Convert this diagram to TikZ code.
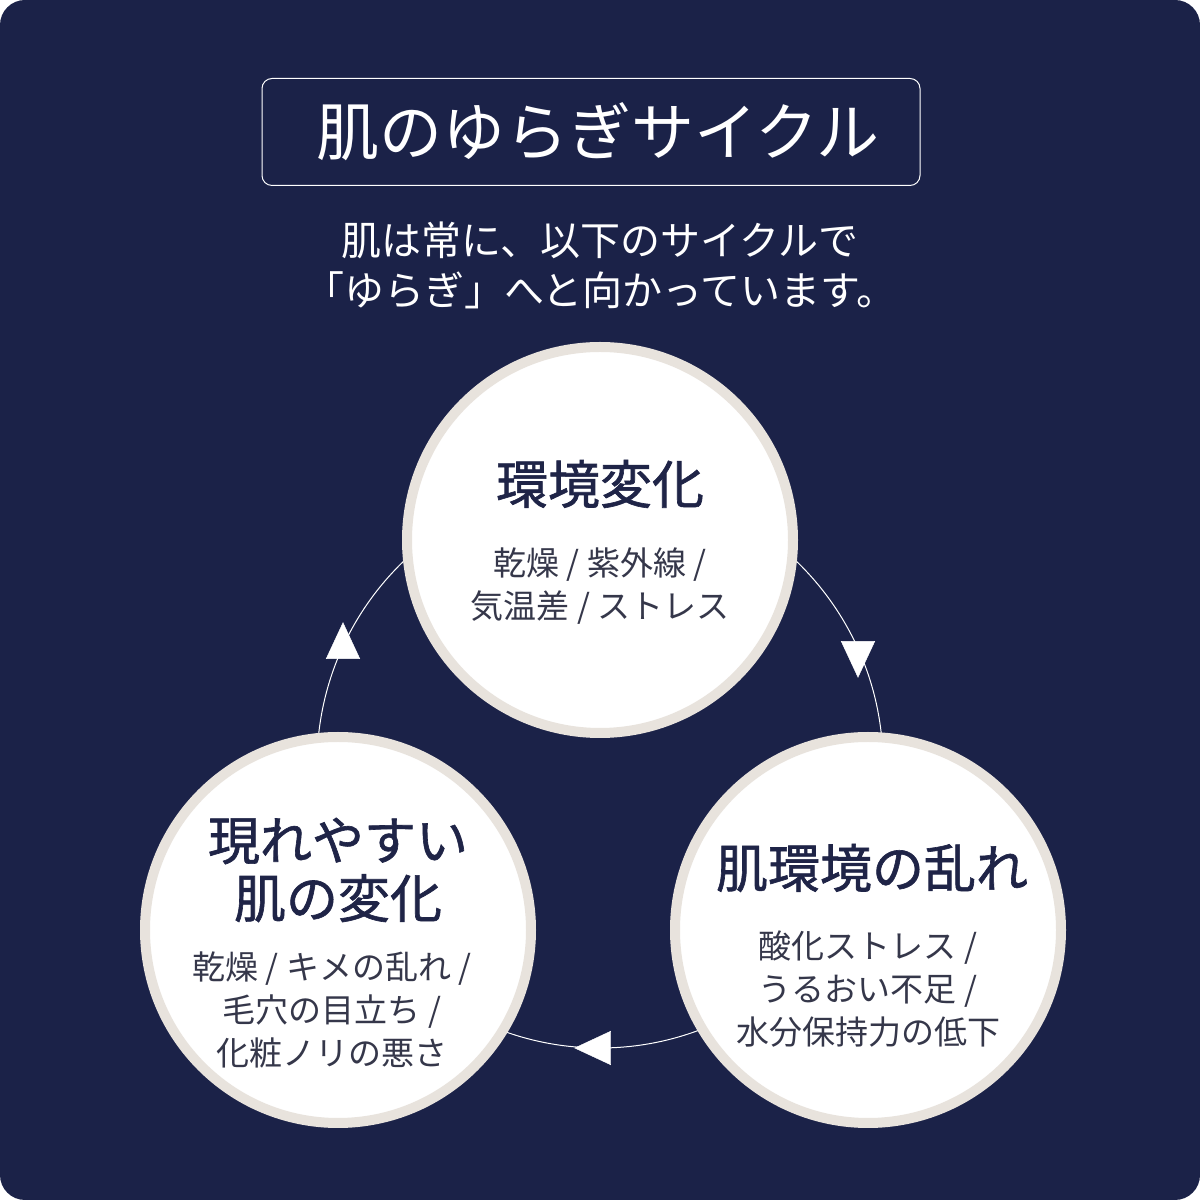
\documentclass[tikz,border=0pt]{standalone}
\usepackage{fontspec}
\setmainfont{Noto Sans CJK JP}
\newfontfamily\headf[FakeBold=1.2]{Noto Sans CJK JP}
\usetikzlibrary{shapes.geometric}
\definecolor{navy}{HTML}{1B2248}
\definecolor{ring}{HTML}{E8E3DD}
\definecolor{headc}{HTML}{1F2447}
\definecolor{bodyc}{HTML}{35374A}
\begin{document}
\begin{tikzpicture}[x=1pt,y=1pt,
  bub/.style={circle,draw=ring,line width=10pt,fill=white,minimum size=386pt,inner sep=0pt},
  head/.style={text=headc,font=\fontsize{52}{58}\headf,align=center},
  body/.style={text=bodyc,font=\fontsize{33}{43}\selectfont,align=center},
  tri/.style={isosceles triangle,isosceles triangle apex angle=50,fill=white,draw=white,minimum height=36pt,inner sep=0pt}]
\useasboundingbox (0,0) rectangle (1200,1200);
\fill[navy,rounded corners=25pt] (0,0) rectangle (1200,1200);
\node[draw=white,line width=1pt,rounded corners=10pt,minimum width=658pt,minimum height=107pt] (tbox) at (591,1068) {};
\node[text=white,font=\fontsize{63}{70}\selectfont] (title) at (598,1068) {肌のゆらぎサイクル};
\node[text=white,font=\fontsize{40}{50}\selectfont,align=center] (sub) at (600,935) {肌は常に、以下のサイクルで\\「ゆらぎ」へと向かっています。};
\draw[white,line width=1pt] (600,435) circle (283);
\node[bub] (c1) at (600,660) {};
\node[bub] (c2) at (868,270) {};
\node[bub] (c3) at (338,270) {};
\node[tri,shape border rotate=-62] (a1) at (858,548) {};
\node[tri,shape border rotate=180] (a2) at (600,152) {};
\node[tri,shape border rotate=62] (a3) at (343,552) {};
\node[head] (h1) at (600,716) {環境変化};
\node[body] (b1) at (600,614) {乾燥 / 紫外線 /\\気温差 / ストレス};
\node[head] (h2) at (872,332) {肌環境の乱れ};
\node[body] (b2) at (868,211) {酸化ストレス /\\うるおい不足 /\\水分保持力の低下};
\node[head] (h3) at (338,330) {現れやすい\\肌の変化};
\node[body] (b3) at (332,190) {乾燥 / キメの乱れ /\\毛穴の目立ち /\\化粧ノリの悪さ};
\end{tikzpicture}
\end{document}
